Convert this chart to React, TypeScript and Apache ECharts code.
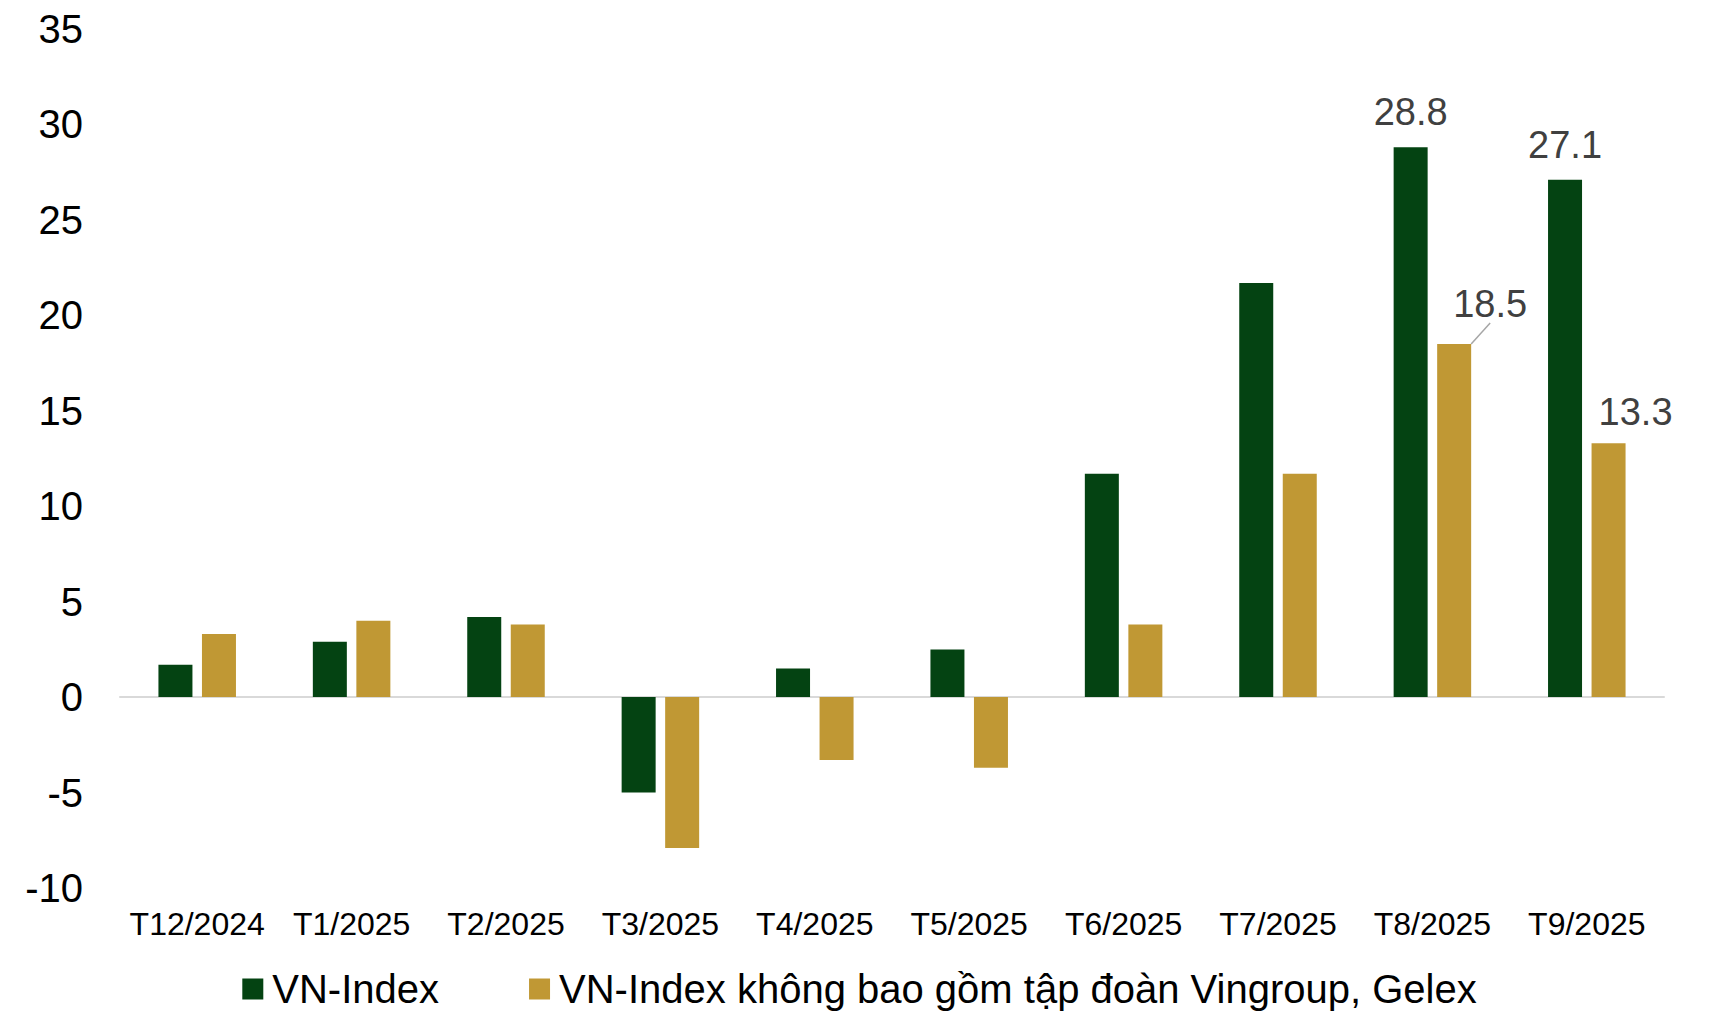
import React, { useEffect, useRef } from "react";
import * as echarts from "echarts";

const categories = ["T12/2024", "T1/2025", "T2/2025", "T3/2025", "T4/2025", "T5/2025", "T6/2025", "T7/2025", "T8/2025", "T9/2025"];
const vnIndex = [1.7, 2.9, 4.2, -5.0, 1.5, 2.5, 11.7, 21.7, 28.8, 27.1];
const vnIndexExVin = [3.3, 4.0, 3.8, -7.9, -3.3, -3.7, 3.8, 11.7, 18.5, 13.3];
const seriesNames = ["VN-Index", "VN-Index không bao gồm tập đoàn Vingroup, Gelex"];
const labeledGreen = [8, 9];
const labeledGold = [8, 9];

const FONT = "'Liberation Sans', Arial, Helvetica, sans-serif";
const GREEN = "#044312";
const GOLD = "#c09834";

export default function App() {
  const ref = useRef<HTMLDivElement>(null);
  useEffect(() => {
    document.body.style.margin = "0";
    if (!ref.current) return;
    const chart = echarts.init(ref.current, undefined, { renderer: "svg" });
    const labelStyle = { fontFamily: FONT, fontSize: 38, color: "#404040" };
    const greenData = vnIndex.map((v, i) =>
      labeledGreen.includes(i)
        ? { value: v, label: { show: true, position: "top", distance: 16, ...labelStyle } }
        : v
    );
    const goldData = vnIndexExVin.map((v, i) => {
      if (!labeledGold.includes(i)) return v;
      if (i === 8) {
        return {
          value: v,
          label: { show: true, position: "top", distance: 16, ...labelStyle },
          labelLine: { show: true, lineStyle: { color: "#a6a6a6", width: 1.5 } },
        };
      }
      return {
        value: v,
        label: { show: true, position: "top", distance: 16, ...labelStyle },
        labelLine: { show: false },
      };
    });
    chart.setOption({
      animation: false,
      backgroundColor: "#ffffff",
      grid: { left: 120, right: 55, top: 29, bottom: 124, containLabel: false },
      legend: {
        data: seriesNames,
        left: "center",
        top: 964,
        icon: "rect",
        itemWidth: 21,
        itemHeight: 21,
        itemGap: 90,
        textStyle: { fontFamily: FONT, fontSize: 40, color: "#000000", padding: [0, 0, 0, 4] },
      },
      xAxis: {
        type: "category",
        data: categories,
        axisLine: { show: true, onZero: true, lineStyle: { color: "#d9d9d9", width: 2 } },
        axisTick: { show: false },
        axisLabel: {
          fontFamily: FONT,
          fontSize: 32,
          color: "#000000",
          margin: 20,
          interval: 0,
        },
        splitLine: { show: false },
      },
      yAxis: {
        type: "value",
        min: -10,
        max: 35,
        interval: 5,
        axisLine: { show: false },
        axisTick: { show: false },
        splitLine: { show: false },
        axisLabel: { fontFamily: FONT, fontSize: 40, color: "#000000", margin: 37 },
      },
      series: [
        {
          name: seriesNames[0],
          type: "bar",
          data: greenData,
          barWidth: 34,
          barGap: "28%",
          itemStyle: { color: GREEN },
        },
        {
          name: seriesNames[1],
          type: "bar",
          data: goldData,
          barWidth: 34,
          itemStyle: { color: GOLD },
          labelLayout: (params: any) => {
            if (params.dataIndex === 8) return { dx: 36, dy: -5 };
            if (params.dataIndex === 9) return { dx: 27, dy: 4 };
            return {};
          },
          labelLine: { show: false, lineStyle: { color: "#a6a6a6", width: 1.5 } },
        },
      ],
    });
    return () => chart.dispose();
  }, []);
  return (
    <div
      ref={ref}
      style={{ position: "absolute", left: 0, top: 0, width: 1719, height: 1012 }}
    />
  );
}
